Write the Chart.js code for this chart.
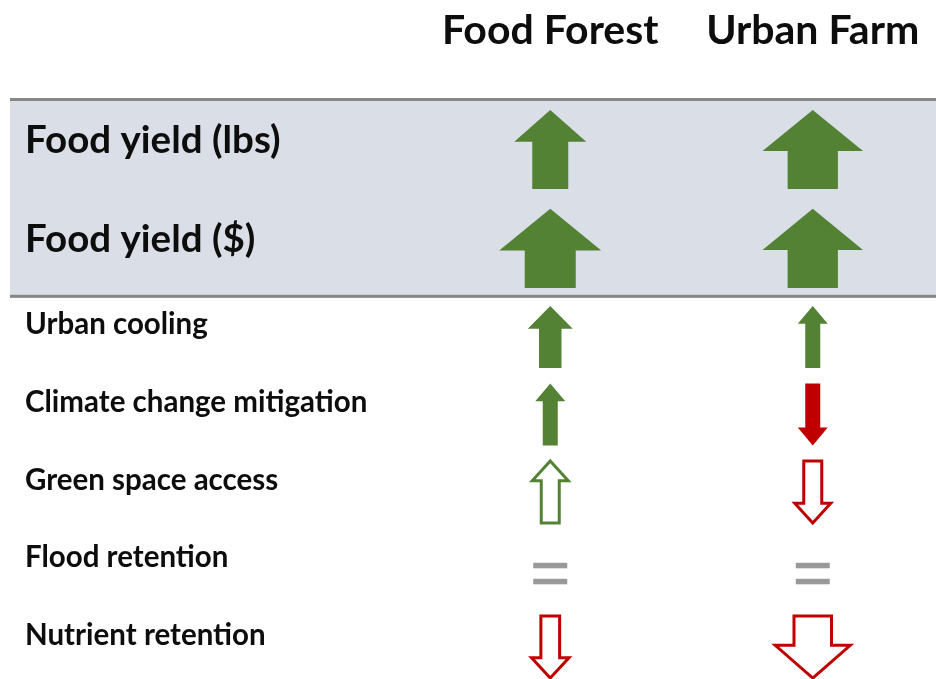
<!DOCTYPE html>
<html><head><meta charset="utf-8">
<script src="https://cdn.jsdelivr.net/npm/chart.js@4"></script>
<style>
html,body{margin:0;padding:0;background:#fff;overflow:hidden;width:936px;height:679px;position:relative}
#topChart{position:absolute;left:0;top:0}
#bottomChart{position:absolute;left:0;top:298px}
</style></head><body>
<canvas id="topChart" width="944" height="298"></canvas>
<canvas id="bottomChart" width="944" height="388"></canvas>
<script>
// ---- data ----
const columns = ['Food Forest', 'Urban Farm'];
const yieldRows = ['Food yield (lbs)', 'Food yield ($)'];
const serviceRows = ['Urban cooling', 'Climate change mitigation', 'Green space access', 'Flood retention', 'Nutrient retention'];
// signed effect (direction * relative arrow size), 0 = no difference
const foodForestEffect = [2.4, 3.4, 1.5, 1.0, 1.2, 0, -1.25];
const urbanFarmEffect  = [3.35, 3.35, 1.0, -1.0, -1.2, 0, -2.5];
// filled arrow = significant, hollow arrow = not significant
const foodForestSignificant = [true, true, true, true, false, false, false];
const urbanFarmSignificant  = [true, true, true, true, false, false, false];

const GREEN = '#548235', RED = '#c00000', GREY = '#999999';
const TEXT = '#0d0d0d';

function drawMark(ctx, cx, cy, v, sig, rowH) {
  ctx.save();
  if (v === 0) {
    ctx.fillStyle = GREY;
    const w = 34, t = 5.5, off = 4;
    ctx.fillRect(cx - w / 2, cy + off - 8 - t / 2, w, t);
    ctx.fillRect(cx - w / 2, cy + off + 8 - t / 2, w, t);
    ctx.restore();
    return;
  }
  const m = Math.abs(v);
  const up = v > 0;
  const color = up ? GREEN : RED;
  const hw = 30 * m, sw = hw / 2, hh = 8 + 0.33 * hw;
  const L = rowH * 0.8;
  const d = up ? 1 : -1;
  const tipY = cy - d * L / 2, baseY = cy + d * L / 2, shoulderY = tipY + d * hh;
  ctx.beginPath();
  ctx.moveTo(cx, tipY);
  ctx.lineTo(cx + hw / 2, shoulderY);
  ctx.lineTo(cx + sw / 2, shoulderY);
  ctx.lineTo(cx + sw / 2, baseY);
  ctx.lineTo(cx - sw / 2, baseY);
  ctx.lineTo(cx - sw / 2, shoulderY);
  ctx.lineTo(cx - hw / 2, shoulderY);
  ctx.closePath();
  if (sig) {
    ctx.fillStyle = color;
    ctx.fill();
  } else {
    ctx.fillStyle = '#ffffff';
    ctx.fill();
    ctx.lineWidth = 3;
    ctx.lineJoin = 'miter';
    ctx.strokeStyle = color;
    ctx.stroke();
  }
  ctx.restore();
}

const arrowPlugin = {
  id: 'arrows',
  afterDatasetsDraw(chart) {
    const ctx = chart.ctx;
    const yScale = chart.scales.y;
    const rowH = yScale.height / yScale.getLabels().length;
    chart.data.datasets.forEach((ds, di) => {
      chart.getDatasetMeta(di).data.forEach((pt, i) => {
        drawMark(ctx, pt.x, pt.y, ds.effect[i], ds.significant[i], rowH);
      });
    });
  }
};

const bandPlugin = {
  id: 'band',
  beforeDraw(chart) {
    const ctx = chart.ctx, a = chart.chartArea;
    ctx.save();
    ctx.fillStyle = '#d9dee7';
    ctx.fillRect(10, a.top, chart.width - 10, a.bottom - a.top);
    ctx.fillStyle = '#878787';
    ctx.fillRect(10, a.top - 2, chart.width - 10, 3);
    ctx.fillRect(10, a.bottom - 3, chart.width - 10, 3);
    ctx.restore();
  }
};

function makeChart(id, rows, start, isTop) {
  const n = rows.length;
  return new Chart(document.getElementById(id), {
    type: 'scatter',
    data: {
      datasets: columns.map((c, ci) => ({
        label: c,
        data: rows.map(r => ({ x: c, y: r })),
        effect: (ci === 0 ? foodForestEffect : urbanFarmEffect).slice(start, start + n),
        significant: (ci === 0 ? foodForestSignificant : urbanFarmSignificant).slice(start, start + n),
        pointRadius: 0, pointHoverRadius: 0
      }))
    },
    options: {
      responsive: false, animation: false, events: [],
      layout: { padding: { left: 25, right: 0, top: 0, bottom: 0 } },
      plugins: { legend: { display: false }, tooltip: { enabled: false } },
      scales: {
        x: {
          type: 'category', labels: columns, position: 'top', display: isTop, offset: true,
          grid: { display: false, drawTicks: false }, border: { display: false },
          afterFit(s) { if (isTop) s.height = 100; },
          ticks: { font: { family: 'Lato', weight: 'bold', size: 41, lineHeight: '138px' }, color: TEXT, padding: 0, maxRotation: 0, autoSkip: false }
        },
        y: {
          type: 'category', labels: rows, offset: true,
          grid: { display: false, drawTicks: false }, border: { display: false },
          afterFit(s) { s.width = 394; },
          ticks: {
            crossAlign: 'far', labelOffset: isTop ? -9 : -12, padding: 0, autoSkip: false,
            font: { family: 'Lato', weight: 'bold', size: isTop ? 38.5 : 29.5, lineHeight: 0.01 }, color: TEXT
          }
        }
      }
    },
    plugins: isTop ? [bandPlugin, arrowPlugin] : [arrowPlugin]
  });
}

makeChart('topChart', yieldRows, 0, true);
makeChart('bottomChart', serviceRows, 2, false);
</script>
</body></html>
